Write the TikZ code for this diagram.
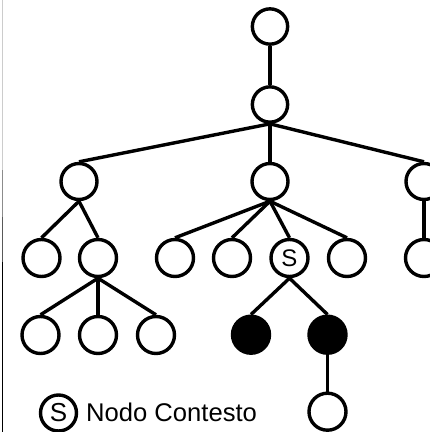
\documentclass[tikz,border=0pt]{standalone}
\usepackage{fontspec}
\setmainfont{Liberation Sans}
\newcommand{\treelabel}[1]{{\fontsize{24pt}{24pt}\selectfont #1}}
\newcommand{\legendlabel}[1]{{\fontsize{26pt}{26pt}\selectfont #1}}
\begin{document}
\begin{tikzpicture}[x=1pt,y=-1pt,
  tn/.style={circle,draw,line width=3.4pt,minimum size=37pt,inner sep=0pt},
  small/.style={tn,minimum size=35.3pt},
  mid/.style={tn,minimum size=36pt},
  full/.style={tn,fill=black},
  edge/.style={line width=3.4pt}]
\useasboundingbox (0,0) rectangle (430,432);
\clip (0,0) rectangle (430,432);
% left margin rule
\draw[line width=1pt,black!20] (2.5,0) -- (2.5,170);
\draw[line width=1pt,black!45] (2.5,170) -- (2.5,217);
\draw[line width=1pt,black!65] (2.5,217) -- (2.5,262);
\draw[line width=1pt,black] (2.5,262) -- (2.5,432);
% tree nodes
\node[small] (r) at (270,26.5) {};
\node[small] (a) at (270,104.5) {};
\node[mid] (b1) at (79,181.5) {};
\node[mid] (b2) at (270,181.5) {};
\node[mid] (b3) at (424,181.5) {};
\node[tn] (c1) at (41.5,258) {};
\node[tn] (c2) at (98,258) {};
\node[tn] (c3) at (175,258) {};
\node[tn] (c4) at (232,258) {};
\node[tn] (s) at (289.5,258) {\treelabel{S}};
\node[tn] (c6) at (347,258) {};
\node[tn] (c7) at (424,258) {};
\node[tn] (d1) at (40.5,335) {};
\node[tn] (d2) at (98,335) {};
\node[tn] (d3) at (156,335) {};
\node[full] (f1) at (251,334.7) {};
\node[full] (f2) at (327.5,334.7) {};
\node[tn] (e) at (327.5,411.7) {};
% edges
\draw[edge] (r.south) -- (a.north);
\foreach \t in {b1,b2,b3} \draw[edge] (a.south) -- (\t.north);
\foreach \t in {c1,c2} \draw[edge] (b1.south) -- (\t.north);
\foreach \t in {c3,c4,s,c6} \draw[edge] (b2.south) -- (\t.north);
\draw[edge] (b3.south) -- (c7.north);
\foreach \t in {d1,d2,d3} \draw[edge] (c2.south) -- (\t.north);
\foreach \t in {f1,f2} \draw[edge] (s.south) -- (\t.north);
\draw[edge] (f2.south) -- (e.north);
% legend
\node[tn,minimum size=36pt] (ls) at (58.5,413) {\legendlabel{S}};
\node[anchor=base west,inner sep=0pt] (lt) at (86,421.7) {\fontsize{25.6pt}{25.6pt}\selectfont Nodo Contesto};
\end{tikzpicture}
\end{document}
